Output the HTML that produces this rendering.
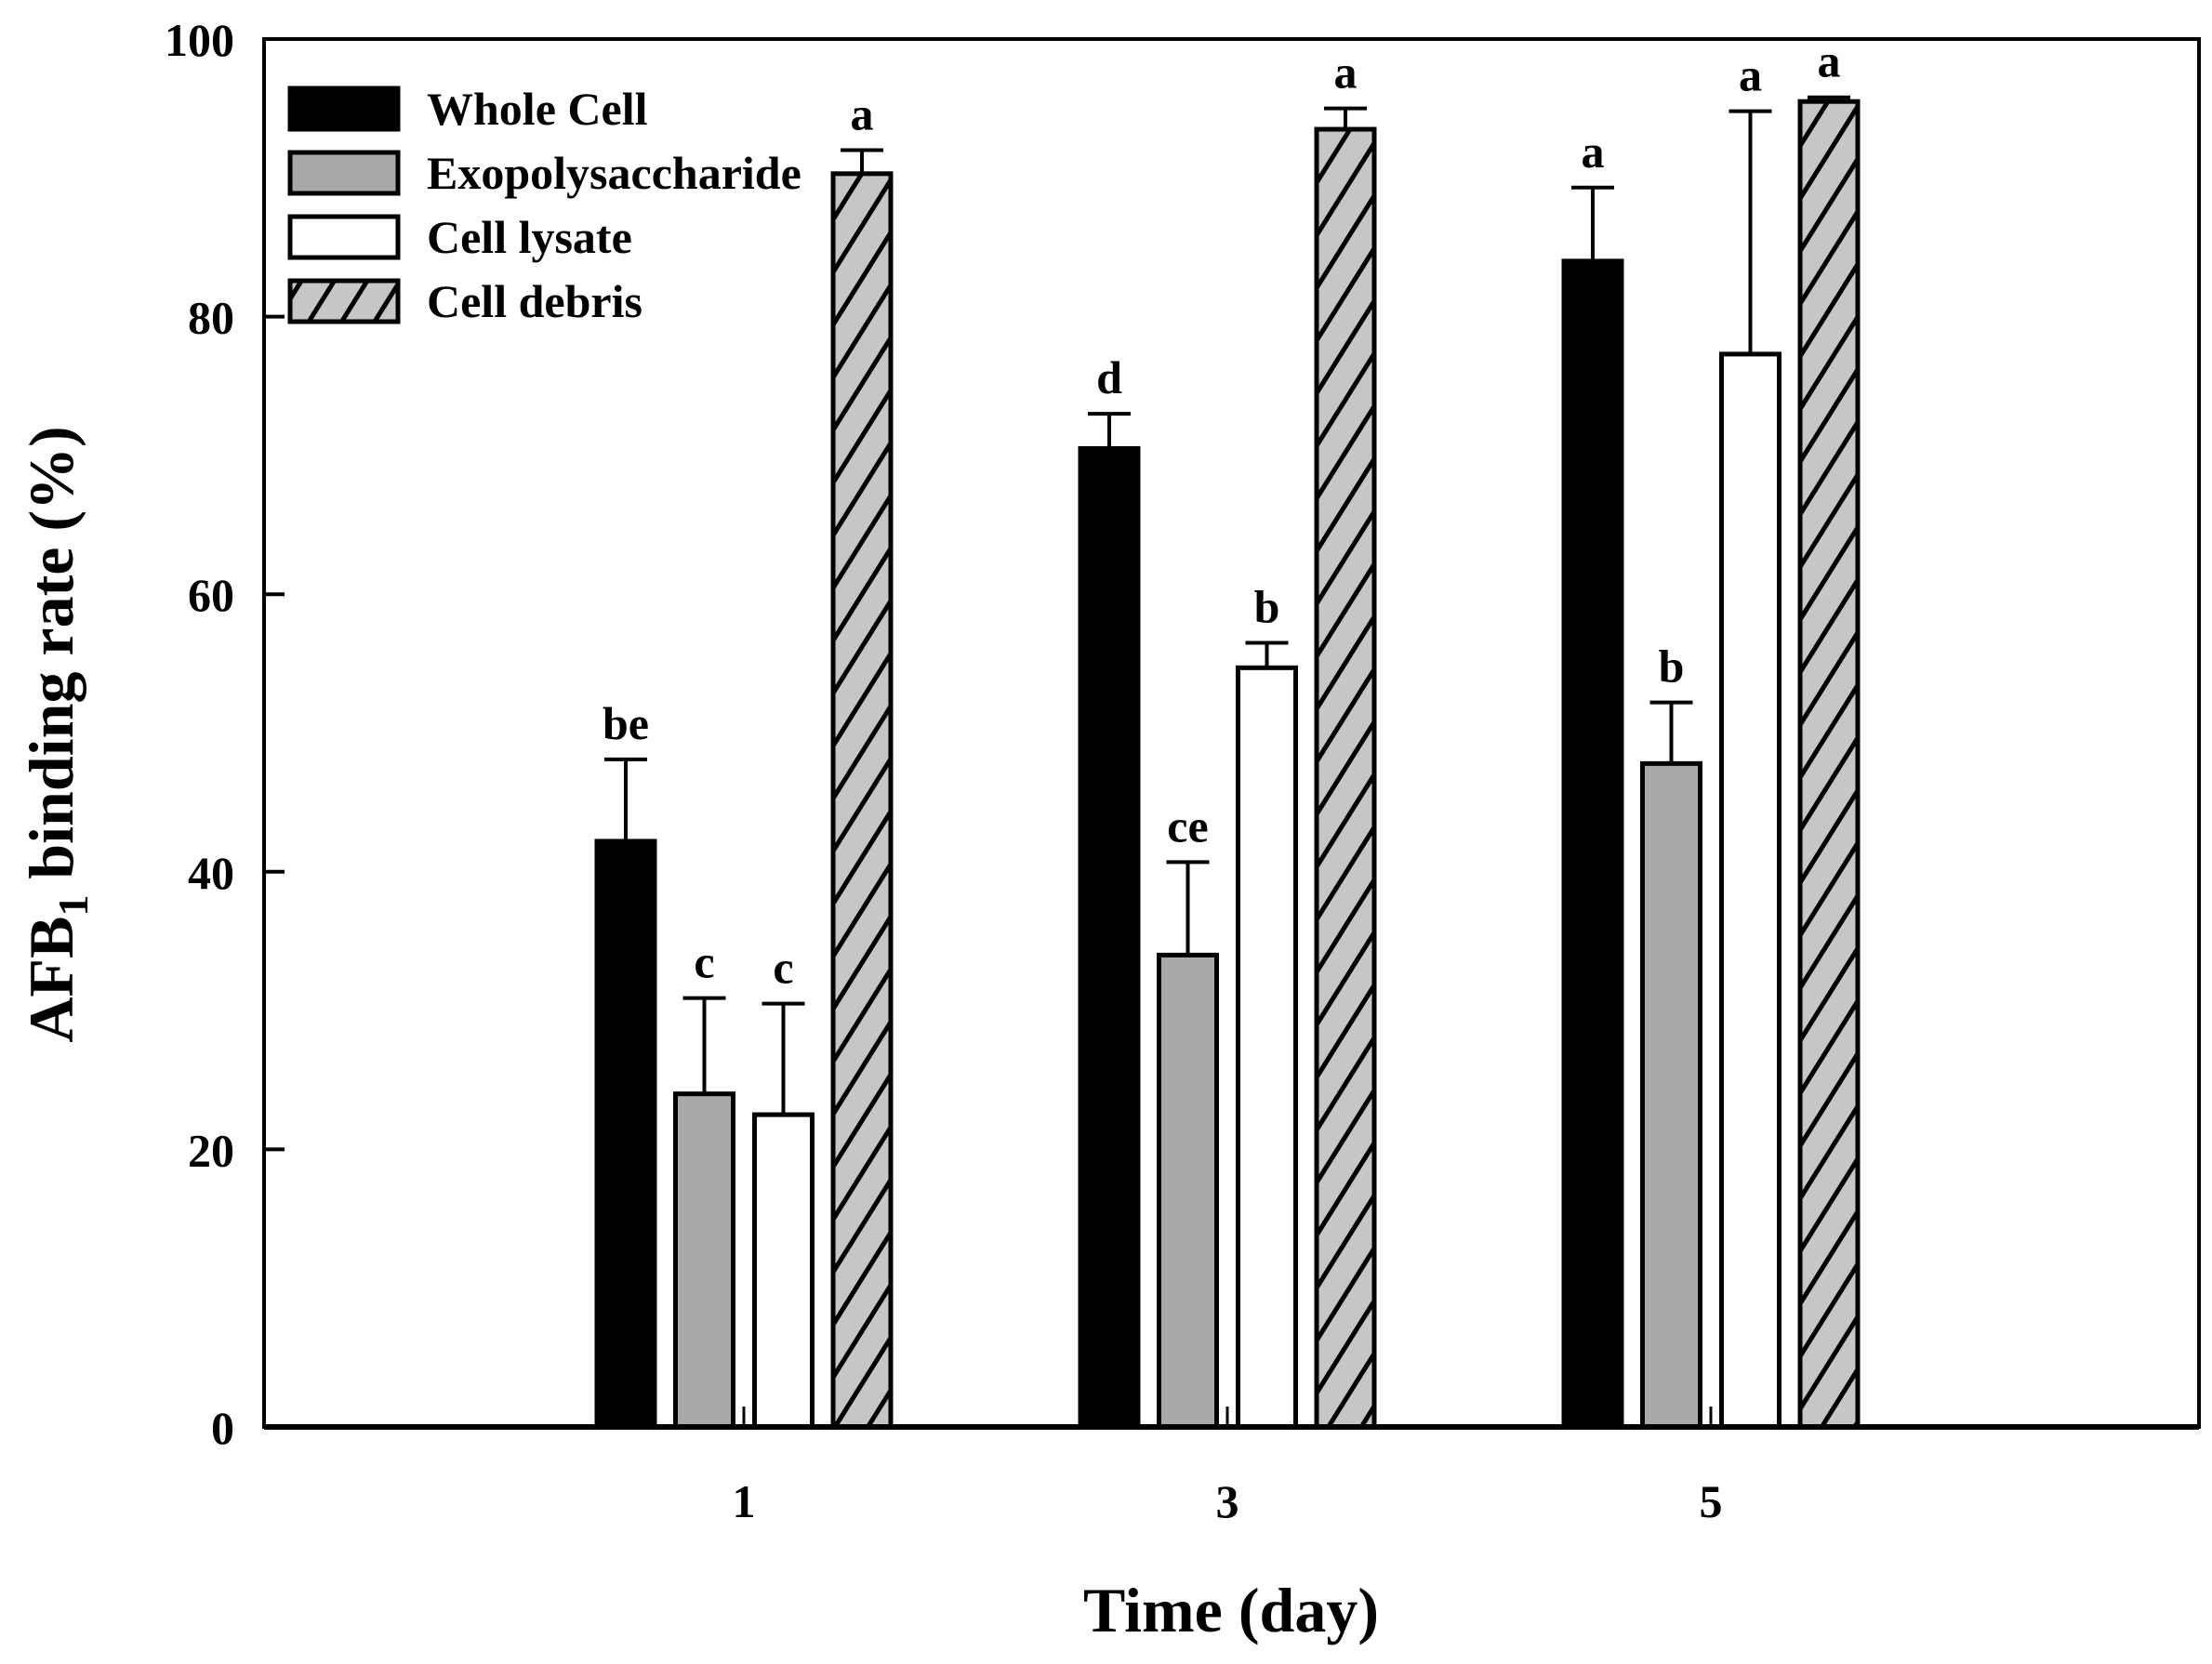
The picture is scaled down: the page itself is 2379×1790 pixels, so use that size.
<!DOCTYPE html>
<html><head><meta charset="utf-8"><style>
html,body{margin:0;padding:0;background:#fff;}
svg{display:block;font-family:"Liberation Serif",serif;font-weight:bold;}
</style></head><body>
<svg id="chart" width="2379" height="1790" viewBox="0 0 2379 1790" xmlns="http://www.w3.org/2000/svg">
<defs>
<pattern id="hatch" patternUnits="userSpaceOnUse" width="30" height="30" patternTransform="rotate(-58)">
<rect width="30" height="30" fill="#c6c6c6"/>
<line x1="0" y1="15" x2="30" y2="15" stroke="#000" stroke-width="5"/>
</pattern>
</defs>
<g id="plot"></g>
</svg>
<script>
const days = ["1","3","5"];
const seriesNames = ["Whole Cell","Exopolysaccharide","Cell lysate","Cell debris"];
const wholeCell = [42.2, 70.5, 84.0];
const exopoly = [24.0, 34.0, 47.8];
const lysate = [22.5, 54.7, 77.3];
const debris = [90.3, 93.5, 95.5];
const wholeCellErr = [5.9, 2.5, 5.3];
const exopolyErr = [6.9, 6.7, 4.4];
const lysateErr = [8.0, 1.8, 17.5];
const debrisErr = [1.7, 1.5, 0.3];
const letters1 = ["be","d","a"];
const letters2 = ["c","ce","b"];
const letters3 = ["c","b","a"];
const letters4 = ["a","a","a"];
const yTicks = [0,20,40,60,80,100];

const NS="http://www.w3.org/2000/svg";
const L=284,R=2365,T=42,B=1535;
const yS=v=>B-(v/100)*(B-T);
const xS=i=>800+i*520;
const g=document.getElementById('plot');
function mk(tag,attrs,parent){const e=document.createElementNS(NS,tag);for(const k in attrs)e.setAttribute(k,attrs[k]);(parent||g).appendChild(e);return e;}

const values=[wholeCell,exopoly,lysate,debris];
const errs=[wholeCellErr,exopolyErr,lysateErr,debrisErr];
const lets=[letters1,letters2,letters3,letters4];
const fills=["#000","#a9a9a9","#fff","url(#hatch)"];
const offs=[-127,-42.5,42.5,127];
const bw=62;

for(let s=0;s<4;s++){
 for(let d=0;d<days.length;d++){
  const cx=xS(d)+offs[s], v=values[s][d], e=errs[s][d];
  const bar=mk('rect',{x:cx-bw/2,y:yS(v),width:bw,height:B-yS(v),fill:fills[s],stroke:'#000','stroke-width':5});
  
  
  const et=yS(v+e);
  const eb=mk('path',{d:`M${cx} ${yS(v)} V${et} M${cx-23} ${et} H${cx+23}`,stroke:'#000','stroke-width':4,fill:'none'});
  
  
  const t=mk('text',{x:cx,y:et-22,'text-anchor':'middle','font-size':50});
  t.textContent=lets[s][d];
  
  
 }
}
const fr=mk('rect',{x:L,y:T,width:R-L,height:B-T,fill:'none',stroke:'#000','stroke-width':4});


mk('line',{x1:L,y1:B,x2:R,y2:B,stroke:'#000','stroke-width':6});
yTicks.forEach(v=>{
 const y=yS(v);
 const tk=mk('line',{x1:L,y1:y,x2:L+22,y2:y,stroke:'#000','stroke-width':4});
 
 
 const t=mk('text',{x:252,y:y+18,'text-anchor':'end','font-size':50});
 t.textContent=v;
 
 
});
days.forEach((d,i)=>{
 const x=xS(i);
 const tk=mk('line',{x1:x,y1:B,x2:x,y2:B-22,stroke:'#000','stroke-width':3});
 
 
 const t=mk('text',{x:x,y:1632,'text-anchor':'middle','font-size':50});
 t.textContent=d;
 
 
});
for(let s=0;s<4;s++){
 const y=95+s*69;
 const r=mk('rect',{x:312,y:y,width:116,height:44,fill:fills[s],stroke:'#000','stroke-width':5});
 
 
 const t=mk('text',{x:459,y:y+39,'font-size':50});
 t.textContent=seriesNames[s];
 
 
}
const xt=mk('text',{x:1324,y:1755,'text-anchor':'middle','font-size':68});
xt.textContent='Time (day)';


const yt=mk('text',{x:0,y:0,'text-anchor':'middle','font-size':68,transform:'translate(78,790) rotate(-90)'});
yt.innerHTML='AFB<tspan font-size="46" dy="16">1</tspan><tspan dy="-16"> binding rate (%)</tspan>';


</script>
</body></html>
